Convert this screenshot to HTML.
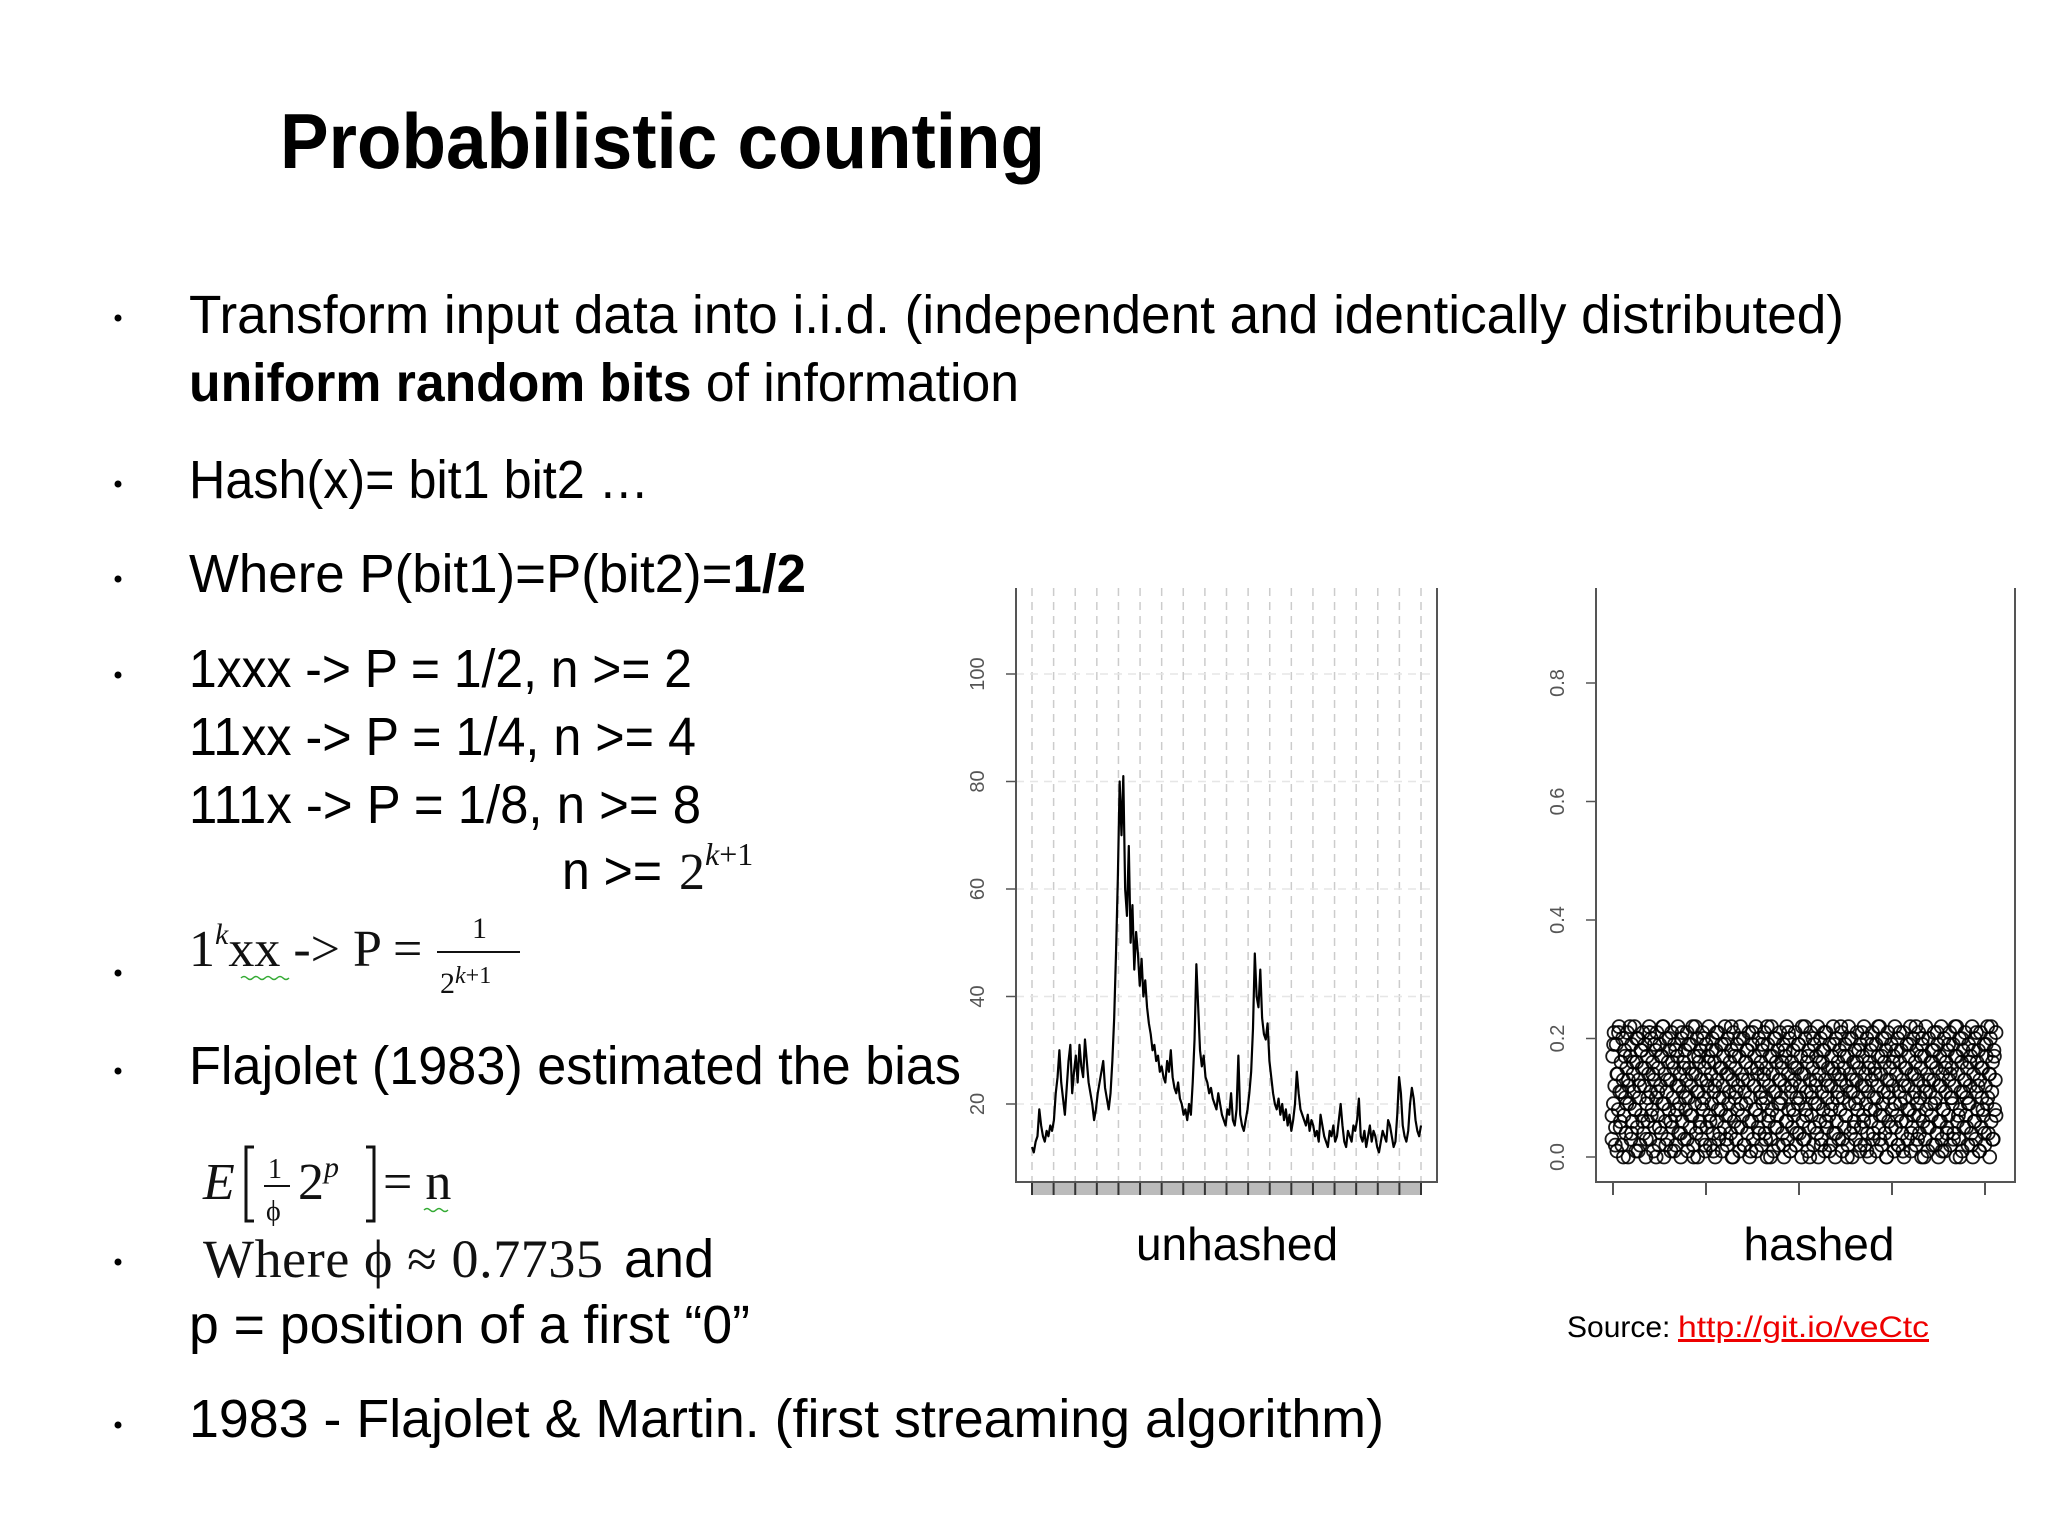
<!DOCTYPE html>
<html><head><meta charset="utf-8">
<style>
html,body{margin:0;padding:0;background:#fff;}
svg{display:block;}
.s{font-family:"Liberation Sans",sans-serif;fill:#000;}
.m{font-family:"Liberation Serif",serif;fill:#111;}
</style></head>
<body>
<svg id="slide" width="2048" height="1536" viewBox="0 0 2048 1536" xmlns="http://www.w3.org/2000/svg">
<text class="s" x="280" y="168" font-size="78" font-weight="bold" textLength="765" lengthAdjust="spacingAndGlyphs">Probabilistic counting</text>

<g font-size="54">
<g fill="#000">
<circle cx="118" cy="318" r="3.5"/><circle cx="118" cy="484" r="3.5"/><circle cx="118" cy="579" r="3.5"/><circle cx="118" cy="675" r="3.5"/><circle cx="118" cy="973" r="3.5"/><circle cx="118" cy="1071" r="3.5"/><circle cx="118" cy="1262" r="3.5"/><circle cx="118" cy="1425" r="3.5"/>
</g>
<text class="s" x="189" y="333" textLength="1655" lengthAdjust="spacingAndGlyphs">Transform input data into i.i.d. (independent and identically distributed)</text>
<text class="s" x="189" y="401" textLength="830" lengthAdjust="spacingAndGlyphs"><tspan font-weight="bold">uniform random bits</tspan> of information</text>
<text class="s" x="189" y="498" textLength="460" lengthAdjust="spacingAndGlyphs">Hash(x)= bit1 bit2 …</text>
<text class="s" x="189" y="592" textLength="617" lengthAdjust="spacingAndGlyphs">Where P(bit1)=P(bit2)=<tspan font-weight="bold">1/2</tspan></text>
<text class="s" x="189" y="687" textLength="503" lengthAdjust="spacingAndGlyphs">1xxx -&gt; P = 1/2, n &gt;= 2</text>
<text class="s" x="189" y="755" textLength="507" lengthAdjust="spacingAndGlyphs">11xx -&gt; P = 1/4, n &gt;= 4</text>
<text class="s" x="189" y="823" textLength="512" lengthAdjust="spacingAndGlyphs">111x -&gt; P = 1/8, n &gt;= 8</text>
<text class="s" x="562" y="889" textLength="100" lengthAdjust="spacingAndGlyphs">n &gt;=</text>
<text class="m" x="679" y="889" font-size="52">2<tspan font-size="32" dy="-24" font-style="italic">k</tspan><tspan font-size="32">+1</tspan></text>

<g>
<text class="m" x="189" y="966" font-size="52">1<tspan font-size="30" dy="-22" font-style="italic">k</tspan><tspan dy="22">xx -&gt; P =</tspan></text>
<path d="M241 978 q3 -3 6 0 t6 0 t6 0 t6 0 t6 0 t6 0 t6 0 t6 0" stroke="#3a3" stroke-width="1.5" fill="none"/>
<text class="m" x="472" y="938" font-size="30">1</text>
<line x1="437" y1="952" x2="520" y2="952" stroke="#111" stroke-width="2"/>
<text class="m" x="440" y="993" font-size="30">2<tspan font-size="24" dy="-10" font-style="italic">k</tspan><tspan font-size="24">+1</tspan></text>
</g>
<text class="s" x="189" y="1084" textLength="772" lengthAdjust="spacingAndGlyphs">Flajolet (1983) estimated the bias</text>

<g>
<text class="m" x="203" y="1199" font-size="52" font-style="italic">E</text>
<path d="M254 1147 h-8 v74 h8 M366 1147 h8 v74 h-8" stroke="#111" stroke-width="3" fill="none"/>
<text class="m" x="268" y="1178" font-size="28">1</text>
<line x1="264" y1="1186" x2="290" y2="1186" stroke="#111" stroke-width="2"/>
<text class="m" x="266" y="1220" font-size="28">ϕ</text>
<text class="m" x="298" y="1199" font-size="52">2<tspan font-size="30" dy="-22" font-style="italic">p</tspan></text>
<text class="m" x="383" y="1199" font-size="52">= n</text>
<path d="M424 1210 q3 -3 6 0 t6 0 t6 0 t6 0" stroke="#3a3" stroke-width="1.5" fill="none"/>
</g>
<text x="203" y="1277"><tspan class="m" font-size="54" textLength="400">Where ϕ ≈ 0.7735</tspan><tspan class="s" x="624">and</tspan></text>
<text class="s" x="189" y="1343" textLength="561" lengthAdjust="spacingAndGlyphs">p = position of a first “0”</text>
<text class="s" x="189" y="1437" textLength="1195" lengthAdjust="spacingAndGlyphs">1983 -  Flajolet &amp; Martin. (first streaming algorithm)</text>
</g>

<g id="chart1"></g>
<g id="chart2"></g>

<text class="s" x="1237" y="1260" font-size="46" text-anchor="middle">unhashed</text>
<text class="s" x="1819" y="1260" font-size="46" text-anchor="middle">hashed</text>
<text class="s" x="1567" y="1337" font-size="30">Source: </text>
<a><text class="s" x="1678" y="1337" font-size="30" fill="#e00" style="fill:#e00" text-decoration="underline" textLength="251" lengthAdjust="spacingAndGlyphs">http://git.io/veCtc</text></a>
</svg>

<script>
const unhashedValues=[12,11,13,14,19,16,14,13,15,14,16,15,17,22,25,30,24,21,18,23,28,31,22,26,29,24,31,27,25,32,28,24,22,20,17,19,22,24,26,28,23,21,19,22,28,36,48,62,80,70,81,60,55,68,50,57,45,52,48,42,47,40,43,38,35,33,30,31,28,29,26,27,25,24,28,26,30,25,23,22,24,21,20,18,19,17,20,18,24,32,46,38,30,27,29,25,24,22,23,21,20,19,22,20,18,17,16,19,18,22,17,16,19,29,18,16,15,17,19,22,26,34,48,40,38,45,36,33,32,35,28,25,22,20,19,21,18,20,17,19,16,18,15,17,20,26,22,19,18,17,16,18,15,17,16,14,15,13,18,16,14,13,12,15,14,16,13,14,17,20,16,13,12,15,14,13,16,15,17,21,14,13,15,12,14,16,13,15,14,12,11,13,15,14,13,17,16,14,12,13,18,25,22,16,14,13,15,20,23,21,17,15,14,16];
const unhashedTicks=["20","40","60","80","100"];
const unhashedTickValues=[20,40,60,80,100];
const hashedTickValues=[0,0.2,0.4,0.6,0.8];
const hashedTicks=["0.0","0.2","0.4","0.6","0.8"];
const hashedValues=[3,17,9,21,12,5,19,1,14,8,22,11,6,16,2,20,13,7,18,10,4,15,21,0,12,9,17,3,19,6,14,11,22,8,1,16,5,20,13,10,2,18,7,15,21,4,12,19,0,9,17,6,14,22,3,11,20,8,16,1,13,5,18,10,21,7,15,2,19,12,4,17,9,22,0,14,6,20,11,3,16,8,18,13,1,21,5,10,15,19,7,2,12,17,22,4,9,14,0,20,6,11,16,3,18,8,13,21,1,10,15,5,19,12,7,22,2,17,9,14,4,20,0,11,16,6,18,13,3,21,8,10,15,1,19,5,12,17,22,7,2,14,9,20,4,11,16,0,18,6,13,21,3,10,15,8,19,1,12,17,5,22,7,14,2,20,9,11,16,4,18,0,13,21,6,10,15,3,19,8,12,17,1,22,5,14,7,20,2,11,16,9,18,4,13,21,0,10,15,6,19,3,12,17,8,22,1,14,5,20,7,11,16,2,18,9,13,21,4,10,15,0,19,6,12,17,3,22,8,14,1,20,5,11,16,7,18,2,13,21,9,10,15,4,19,0,12,17,6,22,3,14,8,20,1,11,16,5,18,7,13,21,2,10,15,9,19,4,12,17,0,22,6,14,3,20,8,11,16,1,18,5,13,21,7,10,15,2,19,9,12,17,4,22,0,14,6,20,3,11,16,8,18,1,13,21,5,10,15,7,19,2,12,17,9,22,4,14,0,20,6,11,16,3,18,8,13,21,1,10,15,5,19,7,12,17,2,22,9,14,4,20,0,11,16,6,18,3,13,21,8,10,15,1,19,5,12,17,7,22,2,14,9,20,4,11,16,0,18,6,13,21,3,10,15,8,19,1,12,17,5,22,7,14,2,20,9,11,16,4,18,0,13,21,6,10,15,3,19,8,12,17,1,22,5,14,7,20,2,11,16,9,18,4,13,21,0,10,15,6,19,3,12,17,8,22,1,14,5,20,7,11,16,2,18,9,13,21,4,10,15,0,19,6,12,17,3,22,8,14,1,20,5,11,16,7,18,2,13,21,9,10,15,4,19,0,12,17,6,22,3,14,8,20,1,11,16,5,18,7,13,21,2,10,15,9,19,4,12,17,0,22,6,14,3,20,8,11,16,1,18,5,13,21,7,10,15,2,19,9,12,17,4,22,0,14,6,20,3,11,16,8,18,1,13,21,5,10,15,7,19,2,12,17,9,22,4,14,0,20,6,11,16,3,18,8,13,21];
const hashedValues2=[7,19,2,14,21,5,11,0,17,9,13,22,4,16,8,20,1,12,18,6,15,3,10,21,7,14,19,0,11,5,17,22,9,2,13,20,6,16,1,18,8,12,4,21,15,10,3,19,7,14,0,22,11,17,5,9,20,2,13,16,6,18,1,12,21,8,4,15,10,19,3,14,7,22,0,17,11,5,20,9,13,2,16,18,6,1,21,12,8,15,4,10,19,14,3,22,7,0,17,11,20,5,9,13,16,2,18,6,21,1,12,8,15,4,19,10,14,3,22,7,17,0,11,20,5,13,9,16,2,18,21,6,12,1,8,15,19,4,10,14,22,3,17,7,0,20,11,13,5,9,16,18,2,21,6,12,1,15,8,19,4,14,10,22,3,17,7,20,0,11,13,5,16,9,18,2,21,6,1,12,15,8,19,4,10,14,22,3,7,17,20,0,11,5,13,9,16,18,2,21,6,12,1,8,15,4,19,14,10,3,22,17,7,0,20,11,13,5,9,16,2,18,6,21,12,1,15,8,4,19,10,14,22,3,17,7];
const hashedScale=100;

const NS="http://www.w3.org/2000/svg";
function mk(tag,attrs,parent){const e=document.createElementNS(NS,tag);for(const k in attrs)e.setAttribute(k,attrs[k]);parent.appendChild(e);return e;}

// chart 1
const c1=document.getElementById('chart1');
const L1=1016,R1=1437,T1=588,B1=1182,X0=1032,X1=1421;
const y1=v=>1104-(v-20)*5.375;
const x1=i=>X0+(X1-X0)*i/(unhashedValues.length-1);
for(let k=0;k<19;k++){const gx=X0+(X1-X0)*k/18;
 const g=mk('line',{x1:gx,y1:T1,x2:gx,y2:B1,stroke:'#ccc','stroke-width':1.5,'stroke-dasharray':'8 6'},c1);
 
 }
unhashedTickValues.forEach((v,i)=>{
 const g=mk('line',{x1:L1,y1:y1(v),x2:R1,y2:y1(v),stroke:'#e6e6e6','stroke-width':1.5,'stroke-dasharray':'8 6'},c1);
 
 
 const t=mk('line',{x1:L1-10,y1:y1(v),x2:L1,y2:y1(v),stroke:'#555','stroke-width':1.5},c1);
 
 
 const lb=mk('text',{x:0,y:0,'font-size':20,'text-anchor':'middle',fill:'#555','font-family':'Liberation Sans,sans-serif',transform:`translate(984 ${y1(v)}) rotate(-90)`},c1);
 lb.textContent=unhashedTicks[i];
 
 
});
const band=mk('rect',{x:X0,y:B1,width:X1-X0,height:13,fill:'#bbb'},c1);


for(let k=0;k<19;k++){const gx=X0+(X1-X0)*k/18;
 const t=mk('line',{x1:gx,y1:B1,x2:gx,y2:B1+13,stroke:'#333','stroke-width':2},c1);
 
 }
const frame1=mk('path',{d:`M${L1} ${T1} V${B1} H${R1} V${T1}`,stroke:'#555','stroke-width':2,fill:'none'},c1);


const line=mk('polyline',{points:unhashedValues.map((v,i)=>x1(i)+','+y1(v)).join(' '),stroke:'#000','stroke-width':2.2,fill:'none','stroke-linejoin':'round'},c1);



// chart 2
const c2=document.getElementById('chart2');
const L2=1596,R2=2015,T2=588,B2=1182,PX0=1612,PX1=1996;
const y2=v=>1157-v*592.5;
hashedTickValues.forEach((v,i)=>{
 const t=mk('line',{x1:L2-10,y1:y2(v),x2:L2,y2:y2(v),stroke:'#555','stroke-width':1.5},c2);
 
 
 const lb=mk('text',{x:0,y:0,'font-size':20,'text-anchor':'middle',fill:'#555','font-family':'Liberation Sans,sans-serif',transform:`translate(1564 ${y2(v)}) rotate(-90)`},c2);
 lb.textContent=hashedTicks[i];
 
 
});
for(let k=0;k<5;k++){const gx=1613+93*k;
 const t=mk('line',{x1:gx,y1:B2,x2:gx,y2:B2+13,stroke:'#555','stroke-width':2},c2);
 
 }
const frame2=mk('path',{d:`M${L2} ${T2} V${B2} H${R2} V${T2}`,stroke:'#555','stroke-width':2,fill:'none'},c2);


[hashedValues,hashedValues2].forEach(series=>{
 series.forEach((v,i)=>{
  const cx=PX0+(PX1-PX0)*i/(series.length-1);
  const c=mk('circle',{cx:cx,cy:y2(v/hashedScale),r:6.5,stroke:'#000','stroke-width':1.8,fill:'none','stroke-opacity':0.9},c2);
  
  
 });
});
</script>
</body></html>
